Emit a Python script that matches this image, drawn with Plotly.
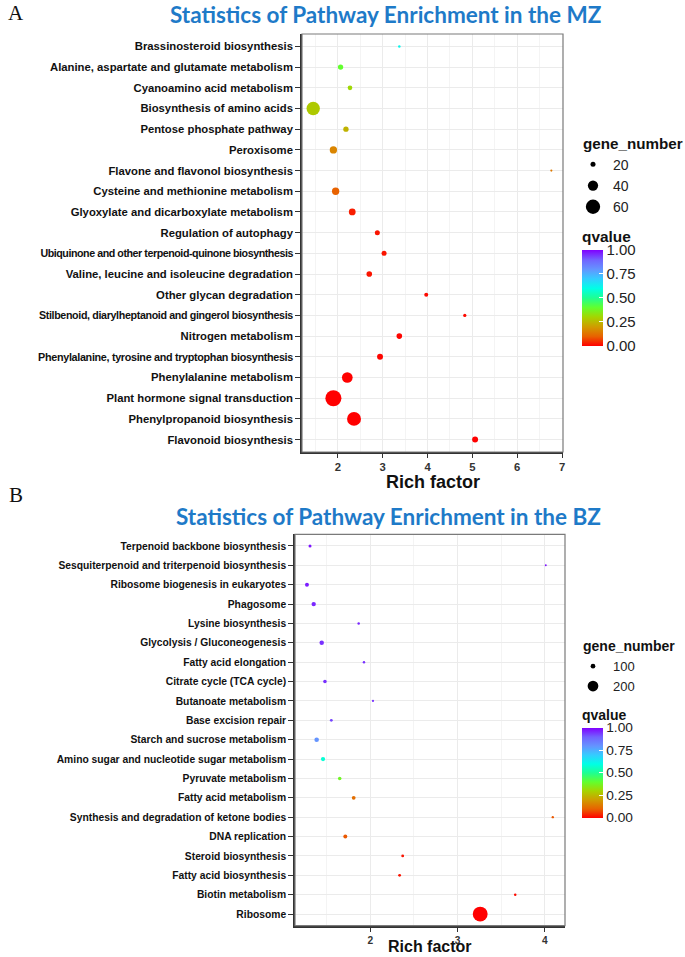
import math
import plotly.graph_objects as go

# ---------------- data: panel A (MZ), listed top -> bottom ----------------
path_mz = [
    "Brassinosteroid biosynthesis",
    "Alanine, aspartate and glutamate metabolism",
    "Cyanoamino acid metabolism",
    "Biosynthesis of amino acids",
    "Pentose phosphate pathway",
    "Peroxisome",
    "Flavone and flavonol biosynthesis",
    "Cysteine and methionine metabolism",
    "Glyoxylate and dicarboxylate metabolism",
    "Regulation of autophagy",
    "Ubiquinone and other terpenoid-quinone biosynthesis",
    "Valine, leucine and isoleucine degradation",
    "Other glycan degradation",
    "Stilbenoid, diarylheptanoid and gingerol biosynthesis",
    "Nitrogen metabolism",
    "Phenylalanine, tyrosine and tryptophan biosynthesis",
    "Phenylalanine metabolism",
    "Plant hormone signal transduction",
    "Phenylpropanoid biosynthesis",
    "Flavonoid biosynthesis",
]
rich_mz = [3.37, 2.06, 2.27, 1.45, 2.18, 1.90, 6.76, 1.95, 2.32, 2.88,
           3.03, 2.70, 3.97, 4.83, 3.37, 2.94, 2.21, 1.90, 2.36, 5.06]
genes_mz = [13, 21, 19, 55, 21, 28, 12, 28, 26, 20,
            20, 22, 17, 15, 22, 23, 42, 70, 58, 23]
q_mz = [0.62, 0.40, 0.31, 0.28, 0.24, 0.16, 0.14, 0.10, 0.03, 0.02,
        0.02, 0.02, 0.01, 0.01, 0.005, 0.005, 0.001, 0.0, 0.0, 0.0]
legend_genes_mz = [20, 40, 60]

# ---------------- data: panel B (BZ), listed top -> bottom ----------------
path_bz = [
    "Terpenoid backbone biosynthesis",
    "Sesquiterpenoid and triterpenoid biosynthesis",
    "Ribosome biogenesis in eukaryotes",
    "Phagosome",
    "Lysine biosynthesis",
    "Glycolysis / Gluconeogenesis",
    "Fatty acid elongation",
    "Citrate cycle (TCA cycle)",
    "Butanoate metabolism",
    "Base excision repair",
    "Starch and sucrose metabolism",
    "Amino sugar and nucleotide sugar metabolism",
    "Pyruvate metabolism",
    "Fatty acid metabolism",
    "Synthesis and degradation of ketone bodies",
    "DNA replication",
    "Steroid biosynthesis",
    "Fatty acid biosynthesis",
    "Biotin metabolism",
    "Ribosome",
]
rich_bz = [1.31, 4.01, 1.275, 1.352, 1.867, 1.444, 1.928, 1.481, 2.031, 1.554,
           1.386, 1.459, 1.65, 1.81, 4.09, 1.714, 2.371, 2.336, 3.66, 3.259]
genes_bz = [78, 66, 90, 95, 72, 97, 72, 85, 68, 76,
            98, 94, 84, 88, 70, 90, 76, 76, 72, 290]
q_bz = [0.98, 0.98, 0.97, 0.96, 0.96, 0.95, 0.95, 0.95, 0.95, 0.93,
        0.80, 0.58, 0.38, 0.12, 0.09, 0.09, 0.02, 0.02, 0.01, 0.0]
legend_genes_bz = [100, 200]

q_ticks = [0, 0.25, 0.5, 0.75, 1.0]
q_ticktext = ["0.00", "0.25", "0.50", "0.75", "1.00"]

# ---------------- styling ----------------
W, H = 685, 957
FONT = "Liberation Sans"
TITLE_FONT = "Lato"
TITLE_BLUE = "#1E7AC8"

# the longest labels are set a little tighter in the reference: (font px, letter spacing px)
label_font_fit = {
    "Ubiquinone and other terpenoid-quinone biosynthesis": (10.7, -0.45),
    "Stilbenoid, diarylheptanoid and gingerol biosynthesis": (10.7, -0.35),
    "Phenylalanine, tyrosine and tryptophan biosynthesis": (10.8, -0.32),
}

qscale = [
    [0.00, "#FF0000"], [0.10, "#E86200"], [0.20, "#D09C00"], [0.30, "#A6D400"],
    [0.40, "#62FF2E"], [0.50, "#1EFF92"], [0.60, "#00FFE6"], [0.70, "#34CCFF"],
    [0.80, "#6494FF"], [0.90, "#7262FF"], [1.00, "#8000FF"],
]


def size_map(vals, lo, hi, dlo, dhi):
    """sqrt (area) scale, like ggplot's scale_size."""
    out = []
    for v in vals:
        d = dlo + (dhi - dlo) * (math.sqrt(v) - math.sqrt(lo)) / (math.sqrt(hi) - math.sqrt(lo))
        out.append(max(d, 1.5))
    return out


def px_x(p):
    return p / W


def px_y(p):
    return 1 - p / H


sz_mz = lambda v: size_map(v, 20, 60, 5.0, 14.3)
sz_bz = lambda v: size_map(v, 100, 200, 4.7, 10.7)


def fmt_label(name):
    if name in label_font_fit:
        fs, ls = label_font_fit[name]
        return '<span style="font-size:%.1fpx;letter-spacing:%.2fpx">%s</span>' % (fs, ls, name)
    return name


fig = go.Figure()

fig.add_trace(go.Scatter(
    x=rich_mz, y=path_mz, mode="markers", xaxis="x", yaxis="y",
    marker=dict(size=sz_mz(genes_mz), color=q_mz, coloraxis="coloraxis",
                line=dict(width=0), opacity=1),
    showlegend=False, hoverinfo="x+y",
))
fig.add_trace(go.Scatter(
    x=rich_bz, y=path_bz, mode="markers", xaxis="x2", yaxis="y2",
    marker=dict(size=sz_bz(genes_bz), color=q_bz, coloraxis="coloraxis2",
                line=dict(width=0), opacity=1),
    showlegend=False, hoverinfo="x+y",
))

# size legends
for g, s in zip(legend_genes_mz, sz_mz(legend_genes_mz)):
    fig.add_trace(go.Scatter(x=[None], y=[None], mode="markers", xaxis="x", yaxis="y",
                             marker=dict(size=s, color="black", line=dict(width=0)),
                             name=str(g), legend="legend", showlegend=True))
for g, s in zip(legend_genes_bz, sz_bz(legend_genes_bz)):
    fig.add_trace(go.Scatter(x=[None], y=[None], mode="markers", xaxis="x2", yaxis="y2",
                             marker=dict(size=s, color="black", line=dict(width=0)),
                             name=str(g), legend="legend2", showlegend=True))


def xaxis_style(dom, anchor, rng, tickvals, fs):
    return dict(
        domain=dom, anchor=anchor, range=rng, tickvals=tickvals,
        ticks="outside", ticklen=4, tickwidth=1.3, tickcolor="#333333",
        showline=True, linecolor="#333333", linewidth=1.6,
        showgrid=True, gridcolor="#EBEBEB", gridwidth=1,
        minor=dict(dtick=0.5, tick0=0, showgrid=True, gridcolor="#F4F4F4", gridwidth=0.6),
        zeroline=False, automargin=False,
        tickfont=dict(family=FONT, size=fs, color="#333333", weight="bold"),
    )


def yaxis_style(dom, anchor, cats, fs):
    return dict(
        domain=dom, anchor=anchor, type="category",
        categoryorder="array", categoryarray=list(reversed(cats)),
        tickmode="array", tickvals=cats, ticktext=[fmt_label(c) for c in cats],
        range=[-0.6, len(cats) - 0.4],
        ticks="outside", ticklen=5, tickwidth=1.3, tickcolor="#333333",
        showline=True, linecolor="#333333", linewidth=1.6,
        showgrid=True, gridcolor="#EBEBEB", gridwidth=1,
        zeroline=False, automargin=False,
        tickfont=dict(family=FONT, size=fs, color="#111111", weight="bold"),
    )


def cbar(ycenter_px, length_px, fs_title, fs):
    return dict(
        title=dict(text="qvalue", side="top",
                   font=dict(family=FONT, size=fs_title, color="#111111", weight="bold")),
        x=px_x(582), xanchor="left", xpad=0,
        y=px_y(ycenter_px), yanchor="middle", ypad=0,
        len=length_px, lenmode="pixels", thickness=21, thicknessmode="pixels",
        tickvals=q_ticks, ticktext=q_ticktext,
        ticks="inside", ticklen=4, tickwidth=1, tickcolor="white",
        outlinewidth=0,
        tickfont=dict(family=FONT, size=fs, color="#222222"),
    )


def legend_style(top_px, fs_title, fs):
    return dict(
        title=dict(text="gene_number",
                   font=dict(family=FONT, size=fs_title, color="#111111", weight="bold")),
        x=px_x(581), xanchor="left", y=px_y(top_px), yanchor="top",
        bgcolor="rgba(0,0,0,0)", itemsizing="trace", indentation=-8,
        font=dict(family=FONT, size=fs, color="#222222"),
        tracegroupgap=0,
    )


def text_ann(text, x, y, size, color, family, weight="normal", xref="paper", anchor="center"):
    return dict(text=text, x=x, y=y, xref=xref, yref="paper",
                xanchor=anchor, yanchor="middle", showarrow=False,
                font=dict(family=family, size=size, color=color, weight=weight))


fig.update_layout(
    width=W, height=H, autosize=False,
    margin=dict(l=0, r=0, t=0, b=0),
    paper_bgcolor="white", plot_bgcolor="white",
    xaxis=xaxis_style([px_x(302), px_x(563)], "y", [1.2, 7.02], [2, 3, 4, 5, 6, 7], 11.3),
    yaxis=yaxis_style([px_y(452), px_y(34)], "x", path_mz, 11.3),
    xaxis2=xaxis_style([px_x(295), px_x(565)], "y2", [1.138, 4.23], [2, 3, 4], 10.2),
    yaxis2=yaxis_style([px_y(925.7), px_y(534.3)], "x2", path_bz, 10.3),
    coloraxis=dict(colorscale=qscale, cmin=0, cmax=1, colorbar=cbar(286.7, 118, 15.4, 15)),
    coloraxis2=dict(colorscale=qscale, cmin=0, cmax=1, colorbar=cbar(762.0, 111, 14, 13.7)),
    legend=legend_style(129, 15.2, 14),
    legend2=legend_style(633, 14, 13),
    shapes=[
        dict(type="rect", xref="x domain", yref="y domain", x0=0, x1=1, y0=0, y1=1,
             line=dict(color="#7A7A7A", width=1.2), layer="above"),
        dict(type="rect", xref="x2 domain", yref="y2 domain", x0=0, x1=1, y0=0, y1=1,
             line=dict(color="#7A7A7A", width=1.2), layer="above"),
    ],
    annotations=[
        text_ann("A", px_x(6), px_y(13), 21, "#111111", "Liberation Serif", anchor="left"),
        text_ann("B", px_x(7), px_y(495), 21, "#111111", "Liberation Serif", anchor="left"),
        text_ann("Statistics of Pathway Enrichment in the MZ", px_x(386), px_y(14),
                 22.5, TITLE_BLUE, TITLE_FONT, "bold"),
        text_ann("Statistics of Pathway Enrichment in the BZ", px_x(388), px_y(516),
                 22.5, TITLE_BLUE, TITLE_FONT, "bold"),
        text_ann("Rich factor", 0.5, px_y(481.5), 18, "#111111", FONT, "bold", xref="x domain"),
        text_ann("Rich factor", 0.5, px_y(946), 16, "#111111", FONT, "bold", xref="x2 domain"),
    ],
)

fig.write_html(
    "out.html",
    config={"displayModeBar": False},
    post_script="document.body.style.margin='0px';document.body.style.overflow='hidden';",
)
